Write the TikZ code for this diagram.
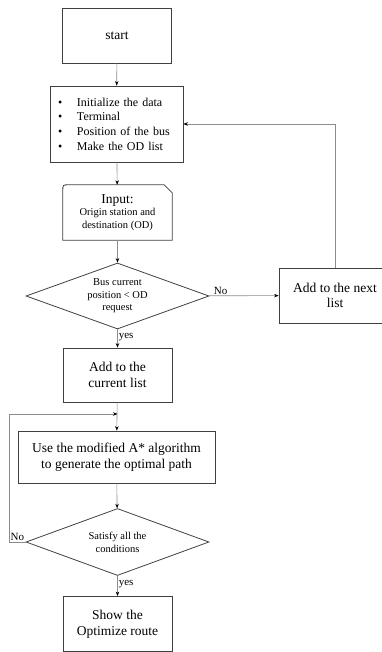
\documentclass[tikz,border=0pt]{standalone}
\usepackage{fontspec}
\setmainfont{Liberation Serif}
\usetikzlibrary{shapes.geometric,arrows.meta,positioning}

\begin{document}
\begin{tikzpicture}[x=1pt,y=-1pt,>={Stealth[length=4.5pt,width=3.5pt,black]},
		box/.style={draw=black!75,line width=0.8pt,rectangle,minimum width=109pt,minimum height=55pt,align=center,inner sep=2pt,font=\fontsize{13.5}{15.5}\selectfont},
		decision/.style={draw=black!75,line width=0.8pt,diamond,aspect=2.77,inner sep=0pt,minimum width=183pt,minimum height=66pt,align=center,font=\fontsize{10.5}{12.5}\selectfont},
		link/.style={draw=black!45,line width=0.6pt,->},
		lbl/.style={font=\fontsize{11}{13}\selectfont,inner sep=1pt}]
				\useasboundingbox (0,0) rectangle (381,652);
				\node[box] (start) at (117,35.5) {start};
				\node[box,minimum width=133pt,minimum height=76pt,text width=117pt,align=left,inner xsep=8pt,font=\fontsize{12}{14.7}\selectfont] (init) at (116.5,124)
					{\makebox[19pt][l]{\textbullet}Initialize the data\\\makebox[19pt][l]{\textbullet}Terminal\\\makebox[19pt][l]{\textbullet}Position of the bus\\\makebox[19pt][l]{\textbullet}Make the OD list};
				\node[minimum width=109pt,minimum height=55pt,align=center,inner sep=2pt,font=\fontsize{10.5}{12.5}\selectfont] (input) at (117.5,212.5)
					{{\fontsize{13.5}{15}\selectfont Input:}\\Origin station and\\destination (OD)};
				\draw[draw=black!75,line width=0.8pt] (input.south west) -- ([yshift=-6pt]input.north west) .. controls (input.north west) .. ([xshift=6pt]input.north west)
					-- ([xshift=-8pt]input.north east) -- ([yshift=-8pt]input.north east) -- (input.south east) -- cycle;
				\node[decision] (d1) at (117.5,296) {Bus current\\position < OD\\request};
				\node[box,minimum width=112pt] (next) at (335,295.5) {Add to the next\\list};
				\node[box,minimum height=54pt] (current) at (117.5,375) {Add to the\\current list};
				\node[box,minimum width=197pt,minimum height=52pt] (use) at (116.5,457) {Use the modified A* algorithm\\to generate the optimal path};
				\node[decision,minimum height=67pt,font=\fontsize{10.5}{13}\selectfont] (d2) at (117.5,542) {Satisfy all the\\conditions};
				\node[box] (show) at (117.5,624) {Show the\\Optimize route};
				\coordinate (loopin) at (117.5,414);
				\coordinate (loopcorner) at (9,542);
				\path[link]
					(start) edge (init)
					(init) edge (input)
					(input) edge (d1)
					(d1) edge node [lbl,above,pos=0.17] {No} (next)
					(d1) edge node [lbl,right,pos=0.45] {yes} (current)
					(current) edge (use)
					(use) edge (d2)
					(d2) edge node [lbl,right,pos=0.4] {yes} (show);
				\draw[link] (d2.west) -- node [lbl,above] {No} (loopcorner) |- (loopin);
				\draw[link] (next.north) |- (init.east);
			\end{tikzpicture}
\end{document}
